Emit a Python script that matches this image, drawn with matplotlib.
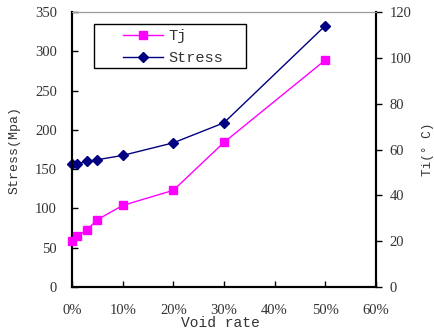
import matplotlib
matplotlib.use("Agg")
import matplotlib.pyplot as plt
from matplotlib.patches import Rectangle
from matplotlib.ticker import FuncFormatter

void_rate = [0, 1, 3, 5, 10, 20, 30, 50]          # %
stress = [157, 157, 160, 162, 167.5, 183.5, 209, 332.5]   # Mpa, left axis
tj = [20.1, 22.1, 25.1, 29.4, 35.6, 42.2, 63.1, 99.0]     # deg C, right axis

mono = "Liberation Mono"
serif = "Liberation Serif"
txt = "#333333"

fig = plt.figure(figsize=(4.34, 3.33), dpi=100)
ax = fig.add_axes([0.166, 0.138, 0.700, 0.826])
ax2 = ax.twinx()

l_tj, = ax2.plot(void_rate, tj, color="#FF00FF", lw=1.0, marker="s", ms=6,
                 label="Tj", zorder=3, clip_on=False)
l_st, = ax.plot(void_rate, stress, color="#000080", lw=1.0, marker="D", ms=5,
                label="Stress", zorder=3, clip_on=False)

ax.set_xlim(0, 60)
ax.set_ylim(0, 350)
ax2.set_ylim(0, 120)
ax.set_xticks(range(0, 61, 10))
ax.xaxis.set_major_formatter(FuncFormatter(lambda v, p: f"{int(v)}%"))
ax.set_yticks(range(0, 351, 50))
ax2.set_yticks(range(0, 121, 20))

ax.tick_params(axis="x", direction="in", length=4, width=1, pad=12, labelsize=10.5)
ax.tick_params(axis="y", direction="in", length=4, width=1, pad=11, labelsize=10.5)
ax2.tick_params(axis="y", direction="out", length=4, width=1, pad=6, labelsize=10.5)
for a in (ax, ax2):
    for lab in a.get_xticklabels() + a.get_yticklabels():
        lab.set_fontfamily(serif)
        lab.set_color(txt)

for a in (ax, ax2):
    a.spines["top"].set_color("#999999")
    a.spines["top"].set_linewidth(0.8)
    for s in ("left", "bottom", "right"):
        a.spines[s].set_linewidth(1.5)
        a.spines[s].set_color("black")

ax.set_xlabel("Void rate", fontfamily=mono, fontsize=10.5, color=txt)
ax.xaxis.set_label_coords(0.487, -0.105)
ax.set_ylabel("Stress(Mpa)", fontfamily=mono, fontsize=9.5, color=txt)
ax.yaxis.set_label_coords(-0.168, 0.5)
ax2.set_ylabel("Ti(° C)", fontfamily=mono, fontsize=9.2, color=txt)
ax2.yaxis.set_label_coords(1.153, 0.5)

# legend box drawn separately, entries placed inside it
ax.add_patch(Rectangle((0.072, 0.796), 0.50, 0.160, transform=ax.transAxes,
                       facecolor="white", edgecolor="black", lw=1.0, zorder=4))
leg = ax.legend([l_tj, l_st], ["Tj", "Stress"], loc="upper left",
                bbox_to_anchor=(0.168, 0.937), frameon=False, borderpad=0,
                borderaxespad=0, handlelength=2.6, handletextpad=0.35,
                labelspacing=0.53, prop={"family": mono, "size": 11})
for t in leg.get_texts():
    t.set_color(txt)
leg.set_zorder(5)

fig.savefig("out.png", dpi=100, facecolor="white")
